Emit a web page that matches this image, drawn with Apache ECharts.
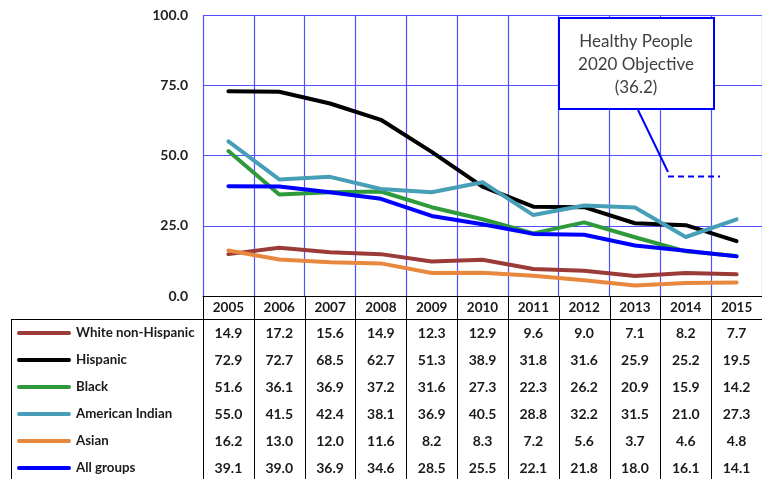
<!DOCTYPE html>
<html><head><meta charset="utf-8">
<script src="https://cdn.jsdelivr.net/npm/echarts@6/dist/echarts.min.js"></script>
<style>html,body{margin:0;padding:0;background:#fff}#c{width:762px;height:479px}</style>
</head><body><div id="c"></div>
<script>
var years = ['2005','2006','2007','2008','2009','2010','2011','2012','2013','2014','2015'];
var seriesNames = ['White non-Hispanic','Hispanic','Black','American Indian','Asian','All groups'];
var whiteNonHispanic = [14.9,17.2,15.6,14.9,12.3,12.9,9.6,9.0,7.1,8.2,7.7];
var hispanic = [72.9,72.7,68.5,62.7,51.3,38.9,31.8,31.6,25.9,25.2,19.5];
var black = [51.6,36.1,36.9,37.2,31.6,27.3,22.3,26.2,20.9,15.9,14.2];
var americanIndian = [55.0,41.5,42.4,38.1,36.9,40.5,28.8,32.2,31.5,21.0,27.3];
var asian = [16.2,13.0,12.0,11.6,8.2,8.3,7.2,5.6,3.7,4.6,4.8];
var allGroups = [39.1,39.0,36.9,34.6,28.5,25.5,22.1,21.8,18.0,16.1,14.1];
var yTicks = [0,25,50,75,100];
var annotationLines = ['Healthy People','2020 Objective','(36.2)'];

var values = [whiteNonHispanic, hispanic, black, americanIndian, asian, allGroups];
var colors = ['#9B3B39','#000000','#2E9A3C','#479FB7','#E8883E','#0000FF'];
var FONT = 'Lato, "Open Sans", sans-serif';

var chart = echarts.init(document.getElementById('c'), null, {renderer:'canvas'});
var series = seriesNames.map(function(n,i){
  return {name:n,type:'line',data:values[i],symbol:'none',smooth:false,
    lineStyle:{color:colors[i],width:4,cap:'round',join:'round'},
    itemStyle:{color:colors[i]},z:2+i,animation:false};
});
chart.setOption({
  animation:false,
  grid:{left:203,top:15,right:0,bottom:183,containLabel:false},
  xAxis:{type:'category',data:years,boundaryGap:true,
    axisLine:{show:true,lineStyle:{color:'#000',width:1}},
    axisTick:{show:false},
    axisLabel:{show:true,margin:5,color:'#1a1a1a',fontWeight:'bold',fontSize:13.5,fontFamily:FONT,interval:0},
    splitLine:{show:true,interval:0,lineStyle:{color:'#5050FF',width:1.2}}},
  yAxis:{type:'value',min:yTicks[0],max:yTicks[yTicks.length-1],interval:25,
    axisLine:{show:false},axisTick:{show:false},
    axisLabel:{margin:15,color:'#222',fontWeight:'bold',fontSize:14,fontFamily:FONT,
      formatter:function(v){return v.toFixed(1);}},
    splitLine:{show:true,lineStyle:{color:'#5050FF',width:1.2}}},
  series:series
});

var g = [];
var left = 203, right = 762, headerTop = 296, headerBot = 319, rowH = 27, tableLeft = 11, bottom = 479;
var colW = (right-left)/years.length;
g.push({type:'line',shape:{x1:left,y1:headerTop+0.5,x2:right,y2:headerTop+0.5},style:{stroke:'#000',lineWidth:1},z:10});
g.push({type:'line',shape:{x1:tableLeft,y1:headerBot+0.5,x2:right,y2:headerBot+0.5},style:{stroke:'#000',lineWidth:1},z:10});
g.push({type:'line',shape:{x1:tableLeft+0.5,y1:headerBot,x2:tableLeft+0.5,y2:bottom},style:{stroke:'#000',lineWidth:1},z:10});
for (var c=0;c<=years.length;c++){
  var x = Math.round(left + c*colW)+0.5;
  g.push({type:'line',shape:{x1:x,y1:headerTop,x2:x,y2:bottom},style:{stroke:'#000',lineWidth:1},z:10});
}
for (var r=0;r<seriesNames.length;r++){
  var cy = headerBot + rowH*r + 14;
  g.push({type:'line',shape:{x1:19,y1:cy,x2:69,y2:cy},style:{stroke:colors[r],lineWidth:4,lineCap:'round'},z:10});
  g.push({type:'text',x:76,y:cy,style:{text:seriesNames[r],font:'bold 13.3px '+FONT,fill:'#1a1a1a',textAlign:'left',textVerticalAlign:'middle'},z:10});
  for (var c2=0;c2<years.length;c2++){
    var px = chart.convertToPixel({xAxisIndex:0}, c2);
    g.push({type:'text',x:px,y:cy,style:{text:values[r][c2].toFixed(1),font:'bold 14px '+FONT,fill:'#1a1a1a',textAlign:'center',textVerticalAlign:'middle'},z:10});
  }
}
g.push({type:'rect',shape:{x:559,y:18,width:155,height:91},style:{fill:'#fff',stroke:'#0000FF',lineWidth:2},z:20});
annotationLines.forEach(function(t,i){
  g.push({type:'text',x:636,y:42+i*23,style:{text:t,font:'17px '+FONT,fill:'#404040',textAlign:'center',textVerticalAlign:'middle'},z:21});
});
g.push({type:'line',shape:{x1:638,y1:110,x2:668,y2:172},style:{stroke:'#0000FF',lineWidth:2},z:20});
g.push({type:'line',shape:{x1:668,y1:176.5,x2:720,y2:176.5},style:{stroke:'#0000FF',lineWidth:2,lineDash:[6,4]},z:20});
chart.setOption({graphic:g});
</script></body></html>
